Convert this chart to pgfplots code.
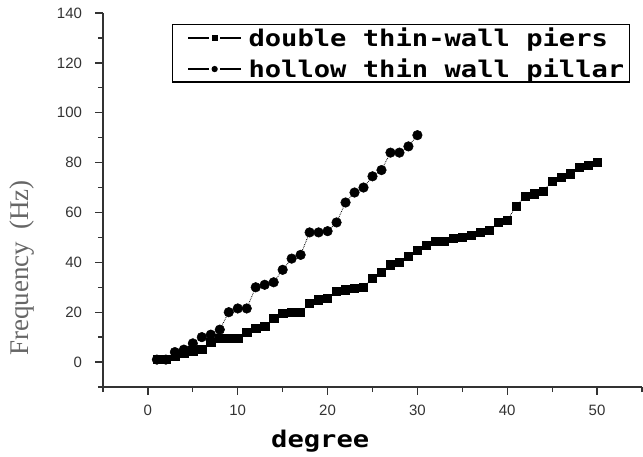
\documentclass[border=0pt]{standalone}
\usepackage{fontspec}
\setmainfont{Liberation Sans}
\newfontfamily\pixfont{DejaVu Sans Mono}[FakeStretch=1.18]
\newfontfamily\serifont{Liberation Serif}
\usepackage{pgfplots}
\pgfplotsset{compat=1.18}
\begin{document}
\begin{tikzpicture}
\useasboundingbox (-103pt,-69pt) rectangle (540pt,387pt);
\begin{axis}[
  at={(0pt,0pt)}, anchor=south west,
  scale only axis, width=539pt, height=374pt,
  xmin=-5, xmax=55, ymin=-10, ymax=140,
  axis x line*=bottom, axis y line*=left,
  xtick={0,10,...,50}, ytick={0,20,...,140},
  minor xtick={-5,5,...,55}, minor ytick={-10,10,...,130},
  tick align=outside,
  major tick length=7.5pt, minor tick length=5pt,
  every tick/.style={line width=1.3pt, black!80},
  every minor tick/.style={line width=1.3pt, black!80},
  axis line style={line width=1.5pt, black!80},
  /pgf/number format/assume math mode=true,
  ticklabel style={font=\fontsize{15}{17}\selectfont, text=black!80},
  yticklabel style={xshift=-10pt},
  xticklabel style={yshift=-7pt},
  xlabel={\pixfont\bfseries\fontsize{23}{26}\selectfont degree},
  xlabel style={at={(axis description cs:0.403,-0.144)}, anchor=center},
  ylabel={\serifont\fontsize{27}{30}\selectfont Frequency\hspace{0.45em}(Hz)},
  ylabel style={at={(axis description cs:-0.150,0.318)}, anchor=center, text=black!60},
  legend style={at={(axis description cs:0.128,0.9706)}, anchor=north west,
    draw=black, line width=1.5pt, font=\pixfont\bfseries\fontsize{23}{26}\selectfont,
    inner xsep=3pt, inner ysep=1pt, row sep=7pt},
  legend cell align=left,
  legend image code/.code={\path (0pt,0pt) (70pt,0pt);
    \draw[#1, solid, line width=1.6pt] (12pt,0pt) -- (33pt,0pt) (44pt,0pt) -- (65pt,0pt);
    \draw[#1, solid, line width=1pt, mark size=2.6pt, mark options={solid}] plot coordinates {(38.5pt,0pt)};},
]
\addplot[black, line width=0.8pt, densely dotted, mark=square*, mark size=4.1pt, mark options={solid, line width=0.5pt}] coordinates {
(1,1)(2,1)(3,2.5)(4,3.5)(5,4.5)(6,5)(7,8)(8,9.5)(9,9.5)(10,9.5)
(11,12)(12,13.5)(13,14.5)(14,17.5)(15,19.5)(16,20)(17,20)(18,23.5)(19,25)(20,25.5)
(21,28.5)(22,29)(23,29.5)(24,30)(25,33.5)(26,36)(27,39)(28,40)(29,42.5)(30,45)
(31,47)(32,48.5)(33,48.5)(34,49.5)(35,50)(36,51)(37,52)(38,53)(39,56)(40,57)
(41,62.5)(42,66.5)(43,67.5)(44,68.5)(45,72.5)(46,74)(47,75.5)(48,78)(49,79)(50,80)
};
\addlegendentry{double thin-wall piers}
\addplot[black, line width=0.8pt, densely dotted, mark=*, mark size=4.8pt, mark options={solid, line width=0.5pt}] coordinates {
(1,1)(2,1)(3,4)(4,5)(5,7.5)(6,10)(7,11)(8,13)(9,20)(10,21.5)
(11,21.5)(12,30)(13,31)(14,32)(15,37)(16,41.5)(17,43)(18,52)(19,52)(20,52.5)
(21,56)(22,64)(23,68)(24,70)(25,74.5)(26,77)(27,84)(28,84)(29,86.5)(30,91)
};
\addlegendentry{hollow thin wall pillar}
\end{axis}
\end{tikzpicture}
\end{document}
